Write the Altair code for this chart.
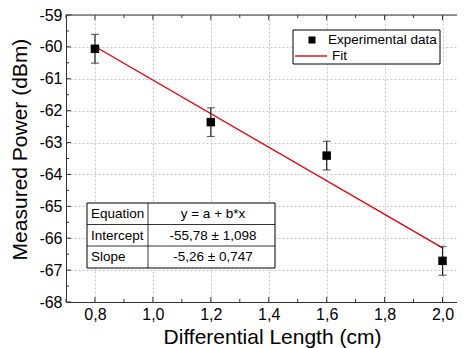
import altair as alt
import pandas as pd

# ---- data ----
lengths = [0.8, 1.2, 1.6, 2.0]
power = [-60.06, -62.36, -63.41, -66.71]
err = [0.45, 0.45, 0.45, 0.45]
intercept = -55.78
slope = -5.26

x_major = [0.8, 1.0, 1.2, 1.4, 1.6, 1.8, 2.0]
x_minor = [0.7, 0.9, 1.1, 1.3, 1.5, 1.7, 1.9]
y_major = [-68, -67, -66, -65, -64, -63, -62, -61, -60, -59]
y_minor = [-67.5, -66.5, -65.5, -64.5, -63.5, -62.5, -61.5, -60.5, -59.5]

table_left = ["Equation", "Intercept", "Slope"]
table_right = ["y = a + b*x", "-55,78 \u00b1 1,098", "-5,26 \u00b1 0,747"]
legend_labels = ["Experimental data", "Fit"]

W, H = 391, 287
FONT = "Liberation Sans"

df = pd.DataFrame({"x": lengths, "y": power, "lo": [p - e for p, e in zip(power, err)],
                   "hi": [p + e for p, e in zip(power, err)]})
fit_df = pd.DataFrame({"x": [lengths[0], lengths[-1]]})
fit_df["y"] = intercept + slope * fit_df["x"]

xs = alt.Scale(domain=[0.7, 2.05], nice=False, zero=False)
ys = alt.Scale(domain=[-68, -59], nice=False, zero=False)

xaxis = alt.Axis(values=x_major, labelExpr="replace(format(datum.value, '.1f'), '.', ',')",
                 title="Differential Length (cm)", ticks=False, grid=True, labelOverlap=False,
                 titleX=206, titleY=41, titleBaseline="alphabetic")
yaxis = alt.Axis(values=y_major, labelExpr="'' + datum.value", labelOverlap=False,
                 title="Measured Power (dBm)", ticks=False, grid=True,
                 titleX=-46, titleY=134, titleAngle=-90, titleBaseline="middle", titleAlign="center")

X = alt.X("x:Q", scale=xs, axis=xaxis)
Y = alt.Y("y:Q", scale=ys, axis=yaxis)
Xs = alt.X("x:Q", scale=xs, axis=xaxis)
Ys = alt.Y("y:Q", scale=ys, axis=yaxis)

fit = alt.Chart(fit_df).mark_line(color="#e3000f", strokeWidth=1.4).encode(x=X, y=Y)
bars = alt.Chart(df).mark_rule(color="#222222", strokeWidth=1.2).encode(
    x=Xs, y=alt.Y("lo:Q", scale=ys, axis=yaxis), y2="hi:Q")
cap_lo = alt.Chart(df).mark_tick(color="#222222", thickness=1.2, size=8, orient="horizontal").encode(
    x=Xs, y=alt.Y("lo:Q", scale=ys, axis=yaxis))
cap_hi = alt.Chart(df).mark_tick(color="#222222", thickness=1.2, size=8, orient="horizontal").encode(
    x=Xs, y=alt.Y("hi:Q", scale=ys, axis=yaxis))
pts = alt.Chart(df).mark_square(color="black", size=72, opacity=1).encode(x=Xs, y=Ys)

# inward ticks
xmaj = pd.DataFrame({"x": x_major})
xmin = pd.DataFrame({"x": x_minor})
ymaj = pd.DataFrame({"y": y_major})
ymin = pd.DataFrame({"y": y_minor})
tc = "#333333"
ticks = [
    alt.Chart(xmaj).mark_rule(color=tc).encode(x=Xs, y=alt.value(H), y2=alt.value(H - 5)),
    alt.Chart(xmin).mark_rule(color=tc).encode(x=Xs, y=alt.value(H), y2=alt.value(H - 3)),
    alt.Chart(xmaj).mark_rule(color=tc).encode(x=Xs, y=alt.value(0), y2=alt.value(5)),
    alt.Chart(xmin).mark_rule(color=tc).encode(x=Xs, y=alt.value(0), y2=alt.value(3)),
    alt.Chart(ymaj).mark_rule(color=tc).encode(y=Ys, x=alt.value(0), x2=alt.value(5)),
    alt.Chart(ymin).mark_rule(color=tc).encode(y=Ys, x=alt.value(0), x2=alt.value(3)),
]
one = pd.DataFrame({"k": [0]})
top_border = alt.Chart(one).mark_rule(color=tc).encode(x=alt.value(0), x2=alt.value(W), y=alt.value(0))

# legend box
leg_box = alt.Chart(one).mark_rect(fill="white", stroke="black", strokeWidth=1).encode(
    x=alt.value(227), x2=alt.value(374), y=alt.value(15), y2=alt.value(49))
leg_sq = alt.Chart(one).mark_square(color="black", size=50, opacity=1).encode(x=alt.value(246), y=alt.value(25))
leg_line = alt.Chart(one).mark_rule(color="#e3000f", strokeWidth=1.4).encode(
    x=alt.value(229), x2=alt.value(261), y=alt.value(41))
leg_df = pd.DataFrame({"t": legend_labels, "px": [262, 266], "py": [25, 41]})
leg_txt = alt.Chart(leg_df).mark_text(align="left", baseline="middle", font=FONT, fontSize=13.5,
                                      color="black").encode(
    x=alt.X("px:Q", scale=None), y=alt.Y("py:Q", scale=None), text="t:N")

# fit table
tb_box = alt.Chart(one).mark_rect(fill="white", stroke="black", strokeWidth=1).encode(
    x=alt.value(21), x2=alt.value(209), y=alt.value(188), y2=alt.value(253))
tb_lines = alt.Chart(pd.DataFrame({"ly": [209.5, 231]})).mark_rule(color="black", strokeWidth=0.8).encode(
    y=alt.Y("ly:Q", scale=None), x=alt.value(21), x2=alt.value(209))
tb_col = alt.Chart(one).mark_rule(color="black", strokeWidth=0.8).encode(
    x=alt.value(82), y=alt.value(188), y2=alt.value(253))
tdf = pd.DataFrame({"l": table_left, "r": table_right, "ry": [199, 220.5, 242]})
tb_left = alt.Chart(tdf).mark_text(align="left", baseline="middle", font=FONT, fontSize=13.5,
                                   color="black").encode(
    x=alt.value(25), y=alt.Y("ry:Q", scale=None), text="l:N")
tb_right = alt.Chart(tdf).mark_text(align="center", baseline="middle", font=FONT, fontSize=13.5,
                                    color="black").encode(
    x=alt.value(147), y=alt.Y("ry:Q", scale=None), text="r:N")

chart = alt.layer(
    fit, *ticks, top_border, bars, cap_lo, cap_hi, pts,
    leg_box, leg_sq, leg_line, leg_txt,
    tb_box, tb_lines, tb_col, tb_left, tb_right,
).properties(
    width=W, height=H,
    autosize=alt.AutoSizeParams(type="none"),
    padding={"left": 58, "top": 7, "right": 0, "bottom": 46},
    background="white",
).configure_view(stroke=None).configure_axis(
    domainColor=tc, domainWidth=1, labelOverlap=False,
    gridColor="#c4c4c4", gridDash=[2, 2], gridWidth=1,
    labelFont=FONT, labelFontSize=16, labelColor="black", labelPadding=4,
    titleFont=FONT, titleFontSize=21, titleFontWeight="normal", titleColor="black",
)

chart.save("out.html", embed_options={"renderer": "svg", "actions": False})
